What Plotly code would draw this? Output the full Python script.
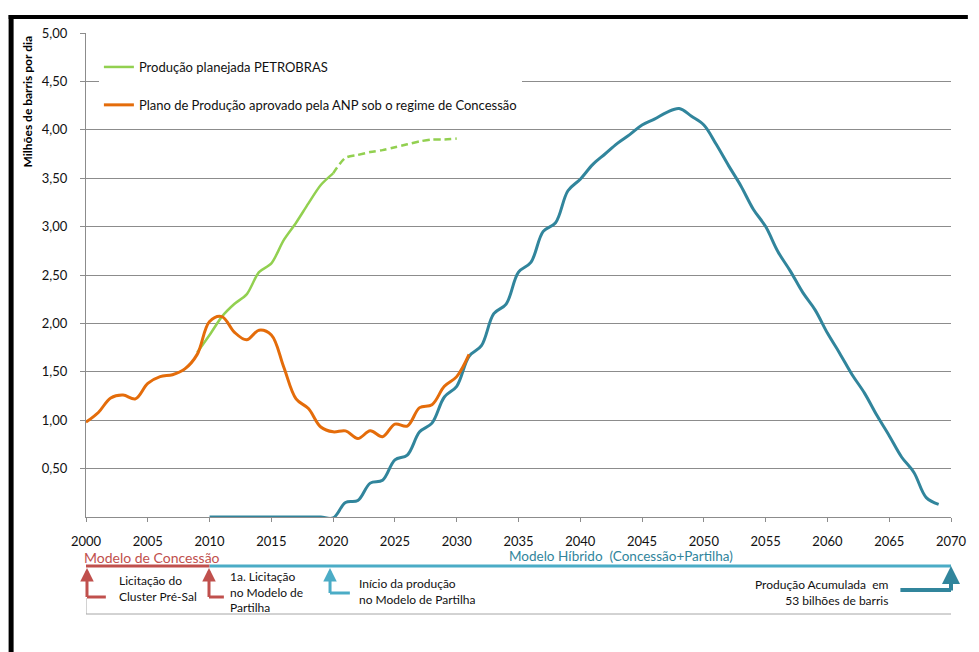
import plotly.graph_objects as go

# --- data -------------------------------------------------------------
anp_years = list(range(2000, 2032))
anp_values = [0.98, 1.08, 1.23, 1.26, 1.22, 1.38, 1.45, 1.47, 1.53, 1.68,
              2.02, 2.07, 1.91, 1.83, 1.93, 1.88, 1.55, 1.22, 1.12, 0.93,
              0.88, 0.89, 0.81, 0.89, 0.83, 0.96, 0.94, 1.13, 1.16, 1.35,
              1.45, 1.68]

petro_years = list(range(2009, 2021))
petro_values = [1.70, 1.88, 2.07, 2.20, 2.30, 2.53, 2.62, 2.86, 3.04, 3.24,
                3.43, 3.55]

petro_plan_years = list(range(2020, 2031))
petro_plan_values = [3.55, 3.71, 3.74, 3.77, 3.79, 3.82, 3.85, 3.88, 3.90,
                     3.90, 3.91]

hybrid_years = list(range(2010, 2070))
hybrid_values = [0.00, 0.00, 0.00, 0.00, 0.00, 0.00, 0.00, 0.00, 0.00, 0.00,
                 -0.01, 0.15, 0.17, 0.35, 0.38, 0.59, 0.64, 0.88, 0.97, 1.24,
                 1.35, 1.66, 1.77, 2.10, 2.20, 2.53, 2.63, 2.95, 3.04, 3.37,
                 3.49, 3.64, 3.75, 3.86, 3.95, 4.05, 4.11, 4.18, 4.22, 4.14,
                 4.05, 3.85, 3.63, 3.42, 3.18, 3.00, 2.74, 2.54, 2.32, 2.14,
                 1.90, 1.69, 1.47, 1.28, 1.05, 0.84, 0.62, 0.46, 0.20, 0.13]

y_ticks = [0.5, 1.0, 1.5, 2.0, 2.5, 3.0, 3.5, 4.0, 4.5, 5.0]
y_tick_labels = ["0,50", "1,00", "1,50", "2,00", "2,50", "3,00", "3,50",
                 "4,00", "4,50", "5,00"]
x_ticks = list(range(2000, 2071, 5))
x_tick_labels = [str(v) for v in x_ticks]

legend_petro = "Produção planejada PETROBRAS"
legend_anp = "Plano de Produção aprovado pela ANP sob o regime de Concessão"

# --- styling ----------------------------------------------------------
FONT = "Lato, 'Open Sans', sans-serif"
GREEN = "#92D050"
ORANGE = "#E46C0A"
TEAL = "#31859C"
LIGHT_TEAL = "#4BACC6"
RED = "#C0504D"
GRID = "#8C8C8C"
TEXT = "#111111"

W, H = 979, 652
M_L, M_R, M_T, M_B = 86, 18, 33, 135
PLOT_W = 872
PLOT_H = H - M_T - M_B


def py(pix):
    """Pixel row -> paper y coordinate."""
    return (H - M_B - pix) / PLOT_H


def pxp(pix):
    """Pixel column -> paper x coordinate."""
    return (pix - M_L) / PLOT_W


def px_year(pix):
    """Pixel column -> x axis value."""
    return 2000 + (pix - M_L) * 70 / PLOT_W


fig = go.Figure()

fig.add_trace(go.Scatter(
    x=petro_years, y=petro_values, mode="lines", name=legend_petro,
    line=dict(color=GREEN, width=2.5, shape="spline", smoothing=0.8),
    legendgroup="petro", legendrank=1))
fig.add_trace(go.Scatter(
    x=petro_plan_years, y=petro_plan_values, mode="lines", showlegend=False,
    line=dict(color=GREEN, width=2.5, dash="7px,4px", shape="spline",
              smoothing=0.8),
    legendgroup="petro"))
fig.add_trace(go.Scatter(
    x=hybrid_years, y=hybrid_values, mode="lines", showlegend=False,
    line=dict(color=TEAL, width=3, shape="spline", smoothing=1.0)))
fig.add_trace(go.Scatter(
    x=anp_years, y=anp_values, mode="lines", name=legend_anp,
    line=dict(color=ORANGE, width=3, shape="spline", smoothing=1.0),
    legendgroup="anp", legendrank=2))

shapes = []
# black frame: left and top edges
shapes.append(dict(type="line", xref="paper", yref="paper",
                   x0=pxp(10.5), x1=pxp(10.5), y0=py(H), y1=py(15),
                   line=dict(color="black", width=5), layer="above"))
shapes.append(dict(type="line", xref="paper", yref="paper",
                   x0=pxp(8), x1=pxp(W - 4), y0=py(17), y1=py(17),
                   line=dict(color="black", width=4), layer="above"))
# regime bands
shapes.append(dict(type="line", xref="x", yref="paper", x0=2000, x1=2010,
                   y0=py(566), y1=py(566), line=dict(color=RED, width=3)))
shapes.append(dict(type="line", xref="x", yref="paper", x0=2010, x1=2070,
                   y0=py(566), y1=py(566),
                   line=dict(color=LIGHT_TEAL, width=3)))
# lower frame of the timeline box
shapes.append(dict(type="line", xref="x", yref="paper", x0=2000, x1=2000,
                   y0=py(598), y1=py(614), line=dict(color="#A6A6A6", width=1)))
shapes.append(dict(type="line", xref="x", yref="paper", x0=2000, x1=2070,
                   y0=py(614), y1=py(614), line=dict(color="#A6A6A6", width=1)))

annotations = []


def elbow_arrow(x_head, x_tail, y_bottom, y_tip, color, width, size):
    shapes.append(dict(type="line", xref="x", yref="paper",
                       x0=x_head, x1=x_tail, y0=py(y_bottom), y1=py(y_bottom),
                       line=dict(color=color, width=width)))
    annotations.append(dict(x=x_head, y=py(y_tip), xref="x", yref="paper",
                            text="", showarrow=True, ax=0,
                            ay=y_bottom - y_tip + width / 2,
                            arrowhead=2, arrowsize=size, arrowwidth=width,
                            arrowcolor=color))


elbow_arrow(px_year(87), px_year(106), 597, 568, RED, 3, 0.9)
elbow_arrow(px_year(210), px_year(225), 597, 568, RED, 3, 0.9)
elbow_arrow(px_year(332), px_year(352), 593, 568, LIGHT_TEAL, 3, 0.9)
elbow_arrow(2070, px_year(907), 590, 566, TEAL, 4, 0.9)

annotations += [
    dict(text="Milhões de barris por dia", x=pxp(27), y=1.0,
         xref="paper", yref="paper", textangle=-90, showarrow=False,
         xanchor="center", yanchor="top",
         font=dict(family=FONT, size=12, color="black", weight="bold")),
    dict(text="Modelo de Concessão", x=pxp(82), y=py(557),
         xref="paper", yref="paper", showarrow=False, xanchor="left",
         yanchor="middle", font=dict(family=FONT, size=14, color=RED)),
    dict(text="Modelo Híbrido  (Concessão+Partilha)", x=pxp(625),
         y=py(556), xref="paper", yref="paper", showarrow=False,
         xanchor="center", yanchor="middle",
         font=dict(family=FONT, size=13.5, color=TEAL)),
    dict(text="Licitação do<br>Cluster Pré-Sal", x=pxp(117), y=py(588),
         xref="paper", yref="paper", showarrow=False, xanchor="left",
         yanchor="middle", align="left",
         font=dict(family=FONT, size=12, color=TEXT)),
    dict(text="1a. Licitação<br>no Modelo de<br>Partilha", x=pxp(229),
         y=py(592), xref="paper", yref="paper", showarrow=False,
         xanchor="left", yanchor="middle", align="left",
         font=dict(family=FONT, size=12, color=TEXT)),
    dict(text="Início da produção<br>no Modelo de Partilha", x=pxp(359),
         y=py(591), xref="paper", yref="paper", showarrow=False,
         xanchor="left", yanchor="middle", align="left",
         font=dict(family=FONT, size=12, color=TEXT)),
    dict(text="Produção Acumulada  em<br>53 bilhões de barris",
         x=pxp(898), y=py(592), xref="paper", yref="paper",
         showarrow=False, xanchor="right", yanchor="middle", align="right",
         font=dict(family=FONT, size=12, color=TEXT)),
]

fig.update_layout(
    width=W, height=H,
    margin=dict(l=M_L, r=M_R, t=M_T, b=M_B, pad=0),
    paper_bgcolor="white", plot_bgcolor="white",
    font=dict(family=FONT, size=13, color=TEXT),
    showlegend=True,
    legend=dict(x=pxp(99), y=py(52),
                xanchor="left", yanchor="top", bgcolor="white",
                borderwidth=0, traceorder="grouped", tracegroupgap=18,
                font=dict(family=FONT, size=13, color=TEXT)),
    shapes=shapes,
    annotations=annotations,
)

fig.update_xaxes(range=[2000, 2070], tickvals=x_ticks, ticktext=x_tick_labels,
                 showgrid=False, zeroline=False, showline=True,
                 linecolor=GRID, linewidth=1, ticks="outside", ticklen=4,
                 tickcolor=GRID, ticklabelstandoff=8,
                 tickfont=dict(family=FONT, size=13, color=TEXT))
fig.update_yaxes(range=[0, 5], tickvals=y_ticks, ticktext=y_tick_labels,
                 showgrid=True, gridcolor=GRID, gridwidth=1, zeroline=False,
                 showline=True, linecolor=GRID, linewidth=1, ticks="outside",
                 ticklen=5, tickcolor=GRID, ticklabelstandoff=10,
                 tickfont=dict(family=FONT, size=13, color=TEXT))

fig.write_html("out.html")
